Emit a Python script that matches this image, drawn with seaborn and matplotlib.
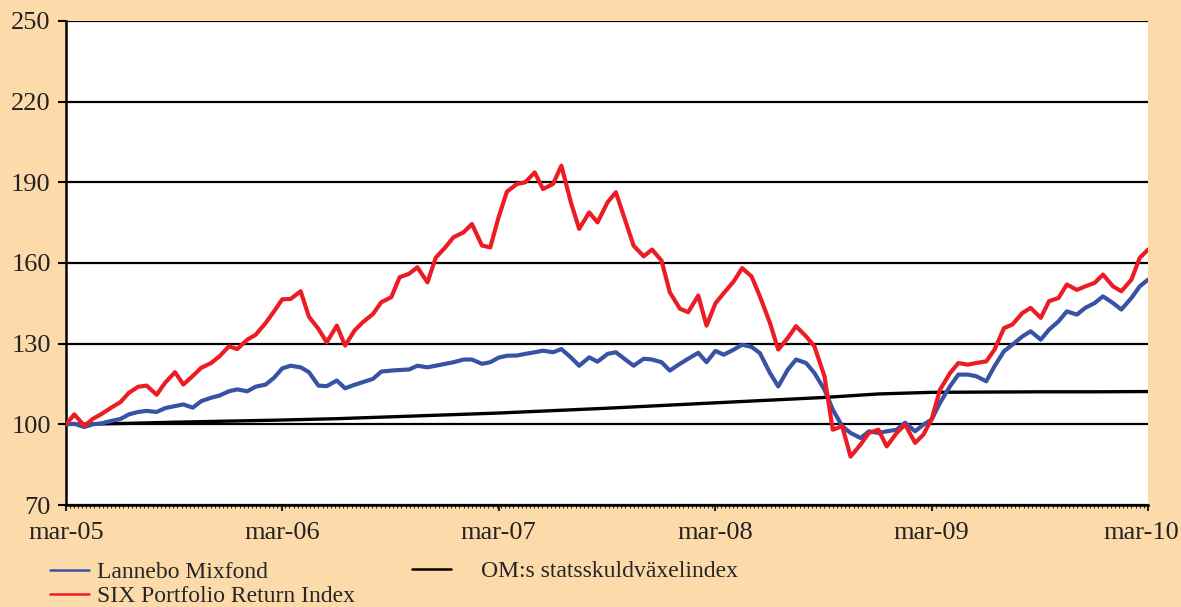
import pandas as pd
import matplotlib.pyplot as plt
import matplotlib.dates as mdates
import matplotlib.transforms as mtransforms
import seaborn as sns

# data (semi-monthly from 2005-03-01 to 2010-03-01)
dates = pd.date_range("2005-03-01", periods=121, freq="SMS")

six = [100.0, 103.7, 99.4, 102.0, 104.0, 106.0, 108.3, 111.7, 114.0, 114.4,
       111.0, 115.4, 119.4, 114.8, 118.0, 121.0, 122.8, 125.3, 129.0, 128.0,
       131.5, 133.3, 137.7, 142.0, 146.5, 146.6, 149.5, 140.0, 135.5, 130.5,
       136.7, 129.3, 134.9, 138.0, 141.0, 145.4, 147.3, 154.7, 156.0, 158.4,
       152.8, 162.0, 165.8, 169.6, 171.4, 174.5, 166.5, 165.8, 177.0, 186.5,
       189.4, 190.0, 193.7, 187.5, 189.4, 196.2, 182.6, 172.7, 178.8, 175.1,
       182.6, 186.3, 175.7, 166.4, 162.5, 165.0, 160.9, 149.1, 143.0, 141.7,
       147.9, 136.7, 145.0, 148.8, 153.2, 158.1, 155.0, 147.6, 137.7, 127.8,
       132.1, 136.5, 132.7, 129.0, 117.9, 98.0, 99.3, 88.0, 92.5, 96.8,
       98.0, 91.8, 96.8, 99.9, 93.1, 96.2, 102.0, 112.9, 119.1, 122.8,
       122.2, 122.8, 123.4, 127.8, 135.8, 137.1, 141.4, 143.3, 139.6, 145.8,
       147.0, 152.0, 150.0, 151.3, 152.6, 155.7, 151.3, 149.5, 153.8, 161.9,
       165.0]

lannebo = [100.0, 100.2, 99.0, 100.0, 100.4, 101.2, 102.0, 103.7, 104.6, 105.0,
           104.6, 106.0, 106.8, 107.4, 106.2, 108.6, 109.9, 110.7, 112.3, 113.0,
           112.3, 114.0, 114.8, 117.3, 120.8, 121.8, 121.2, 119.4, 114.4, 114.2,
           116.3, 113.4, 114.7, 115.7, 116.9, 119.6, 120.0, 120.2, 120.4, 121.8,
           121.2, 121.8, 122.5, 123.1, 124.1, 124.1, 122.5, 123.1, 124.8, 125.5,
           125.6, 126.2, 126.8, 127.4, 126.8, 128.0, 124.9, 121.8, 124.9, 123.3,
           126.2, 126.8, 124.1, 121.8, 124.4, 124.1, 123.1, 120.0, 122.5, 124.4,
           126.6, 123.1, 127.3, 125.9, 127.8, 129.6, 128.8, 126.5, 119.1, 114.1,
           120.3, 124.1, 122.8, 119.1, 112.9, 105.5, 99.3, 96.8, 94.9, 97.4,
           96.8, 97.4, 98.0, 100.6, 97.4, 99.9, 101.8, 108.0, 114.2, 118.5,
           118.5, 117.9, 116.0, 121.6, 127.2, 129.6, 132.7, 134.6, 131.5, 135.2,
           138.3, 142.0, 140.8, 143.3, 145.1, 147.6, 145.1, 142.7, 147.0, 151.3,
           153.8]

om_dates = pd.date_range("2005-03-01", periods=21, freq="QS-MAR")
om = [100.0, 100.3, 100.8, 101.2, 101.6, 102.1, 102.8, 103.5, 104.2, 105.1,
      106.0, 107.0, 108.0, 109.0, 110.0, 111.3, 111.9, 112.0, 112.1, 112.1, 112.2]

labels = ["Lannebo Mixfond", "SIX Portfolio Return Index", "OM:s statsskuldväxelindex"]
yticks = [70, 100, 130, 160, 190, 220, 250]
xtick_dates = pd.to_datetime(["2005-03-01", "2006-03-01", "2007-03-01",
                              "2008-03-01", "2009-03-01", "2010-03-01"])
xtick_labels = ["mar-05", "mar-06", "mar-07", "mar-08", "mar-09", "mar-10"]

df = pd.DataFrame({"datum": dates, "lannebo": lannebo, "six": six})
df_om = pd.DataFrame({"datum": om_dates, "om": om})

sns.set_style("white")
plt.rcParams["font.family"] = ["Liberation Serif", "DejaVu Serif"]

bg = "#FDDAAA"
fig = plt.figure(figsize=(11.81, 6.07), dpi=100, facecolor=bg)
ax = fig.add_axes([66/1181, 1 - 505/607, (1148 - 66)/1181, (505 - 21)/607])
ax.set_facecolor("white")

sns.lineplot(data=df_om, x="datum", y="om", ax=ax, color="black", lw=2.4,
             label=labels[2], zorder=3)
sns.lineplot(data=df, x="datum", y="lannebo", ax=ax, color="#3953A4", lw=3.0,
             label=labels[0], zorder=4)
sns.lineplot(data=df, x="datum", y="six", ax=ax, color="#ED1C24", lw=3.0,
             label=labels[1], zorder=5)

ax.set_ylim(70, 250)
ax.set_yticks(yticks)
ax.set_xlim(xtick_dates[0], xtick_dates[-1])
ax.set_xticks(xtick_dates)
ax.set_xticklabels(xtick_labels)
ax.xaxis.set_minor_locator(mdates.WeekdayLocator(byweekday=0))
ax.set_xlabel("")
ax.set_ylabel("")

ax.grid(axis="y", color="black", lw=1.6)
ax.set_axisbelow(True)
for s in ["top", "right"]:
    ax.spines[s].set_visible(False)
for s in ["left", "bottom"]:
    ax.spines[s].set_color("black")
    ax.spines[s].set_linewidth(1.8)

ax.tick_params(axis="y", which="major", direction="out", length=6, width=1.5,
               pad=5, labelsize=19, left=True, colors="black", labelcolor="#222222")
ax.tick_params(axis="x", which="major", direction="out", length=4, width=1.5,
               pad=8, labelsize=19, bottom=True, labelcolor="#222222")
ax.tick_params(axis="x", which="minor", direction="out", length=2, width=0.8,
               bottom=True)

# last label sits at the right edge, nudge it inside the figure
last = ax.get_xticklabels()[-1]
last.set_transform(last.get_transform() +
                   mtransforms.ScaledTranslation(-7/100, 0, fig.dpi_scale_trans))

h, l = ax.get_legend_handles_labels()
hd = dict(zip(l, h))
leg1 = ax.legend([hd[labels[0]], hd[labels[1]]], labels[:2], loc="center left",
                 bbox_to_anchor=(50/1181, 1 - 584.5/607), bbox_transform=fig.transFigure,
                 frameon=False, fontsize=17, handlelength=1.65, handletextpad=0.34,
                 labelspacing=0.1, borderpad=0, borderaxespad=0)
for ln in leg1.get_lines():
    ln.set_linewidth(1.8)
ax.add_artist(leg1)
leg2 = ax.legend([hd[labels[2]]], labels[2:], loc="center left",
                 bbox_to_anchor=(412/1181, 1 - 571/607), bbox_transform=fig.transFigure,
                 frameon=False, fontsize=17, handlelength=1.65, handletextpad=1.27,
                 borderpad=0, borderaxespad=0)
for ln in leg2.get_lines():
    ln.set_linewidth(1.8)

fig.savefig("out.png", dpi=100, facecolor=bg)
